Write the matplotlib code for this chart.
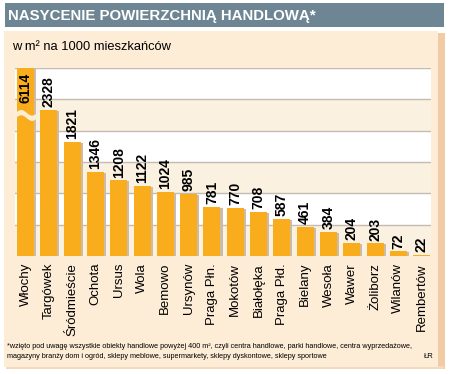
import numpy as np
import matplotlib.pyplot as plt
from matplotlib.patches import Rectangle, Polygon

dzielnice = ['Włochy', 'Targówek', 'Śródmieście', 'Ochota', 'Ursus', 'Wola',
             'Bemowo', 'Ursynów', 'Praga Płn.', 'Mokotów', 'Białołęka',
             'Praga Płd.', 'Bielany', 'Wesoła', 'Wawer', 'Żoliborz',
             'Wilanów', 'Rembertów']
wartosci = [6114, 2328, 1821, 1346, 1208, 1122, 1024, 985, 781, 770, 708,
            587, 461, 384, 204, 203, 72, 22]
tytul = 'NASYCENIE POWIERZCHNIĄ HANDLOWĄ*'
podtytul = 'w m² na 1000 mieszkańców'
przypis1 = ('*wzięto pod uwagę wszystkie obiekty handlowe powyżej 400 m², czyli '
            'centra handlowe, parki handlowe, centra wyprzedażowe,')
przypis2 = ('magazyny branży dom i ogród, sklepy meblowe, supermarkety, '
            'sklepy dyskontowe, sklepy sportowe')

POMARANCZ = '#f9ad1c'
BEZ = '#fdecd6'
PASEK = '#fbf1e0'
SZARY = '#6e8694'

plt.rcParams['font.family'] = ['Liberation Sans', 'DejaVu Sans']

fig = plt.figure(figsize=(4.5, 3.74), dpi=100)

# tlo w pikselach
bg = fig.add_axes([0, 0, 1, 1])
bg.set_xlim(0, 450)
bg.set_ylim(374, 0)
bg.axis('off')
bg.add_patch(Rectangle((5, 3), 439, 24, color=SZARY, lw=0))
bg.add_patch(Rectangle((438, 33), 7, 336, color='#f1cba3', lw=0))
bg.add_patch(Rectangle((6, 366), 438, 3, color='#f3d9bd', lw=0))
bg.add_patch(Rectangle((4, 31), 434, 336, color=BEZ, lw=0))
bg.text(8, 15.5, tytul, color='white', fontsize=10.8, fontweight='bold',
        va='center', ha='left')
bg.text(12, 47, podtytul, fontsize=9.3, va='center', ha='left')
bg.text(7, 347, przypis1, fontsize=5.2, va='center', ha='left')
bg.text(7, 357, przypis2, fontsize=5.2, va='center', ha='left')
bg.text(434, 357, 'ŁR', fontsize=5.5, va='center', ha='right')

ax = fig.add_axes([15 / 450, (374 - 256) / 374, 416 / 450, 188 / 374])
ax.set_facecolor('none')
ymax = 3000
ax.set_ylim(0, ymax)
ax.set_xlim(-0.45, 17.4)
for k, y0 in enumerate(range(0, ymax, 500)):
    kolor = PASEK if k % 2 == 0 else 'white'
    ax.axhspan(y0, y0 + 500, color=kolor, lw=0, zorder=0)
for y0 in range(500, ymax + 1, 500):
    ax.axhline(y0, color='#c4bcb3', lw=1, zorder=0.5)

x = np.arange(len(wartosci))
w = 0.73
h = np.minimum(wartosci, ymax)
ax.bar(x + 0.09, h - 15, width=w, color='#cbbba8', zorder=1)
ax.bar(x, h, width=w, color=POMARANCZ, zorder=2)

for i, v in enumerate(wartosci):
    if v > ymax:
        # przerwany slupek
        t = np.linspace(0, 1, 30)
        xs = i - w / 2 - 0.05 + t * (w + 0.2)
        dol = 2200 + 45 * np.sin(2 * np.pi * t)
        gora = dol + 85
        pts = np.column_stack([np.r_[xs, xs[::-1]], np.r_[dol, gora[::-1]]])
        ax.add_patch(Polygon(pts, closed=True, color=BEZ, lw=0, zorder=2.5))
        ax.text(i, 2690, str(v), rotation=90, ha='center', va='center',
                fontsize=10, fontweight='bold', zorder=3)
    else:
        ax.annotate(str(v), (i, v), xytext=(0, 2), textcoords='offset points',
                    rotation=90, ha='center', va='bottom', fontsize=10,
                    fontweight='bold', zorder=3)

ax.set_xticks(x)
ax.set_xticklabels(dzielnice, rotation=90, fontsize=9.5)
ax.tick_params(axis='x', length=0, pad=5)
ax.set_yticks([])
for sp in ax.spines.values():
    sp.set_visible(False)

fig.savefig('out.png', dpi=100)
